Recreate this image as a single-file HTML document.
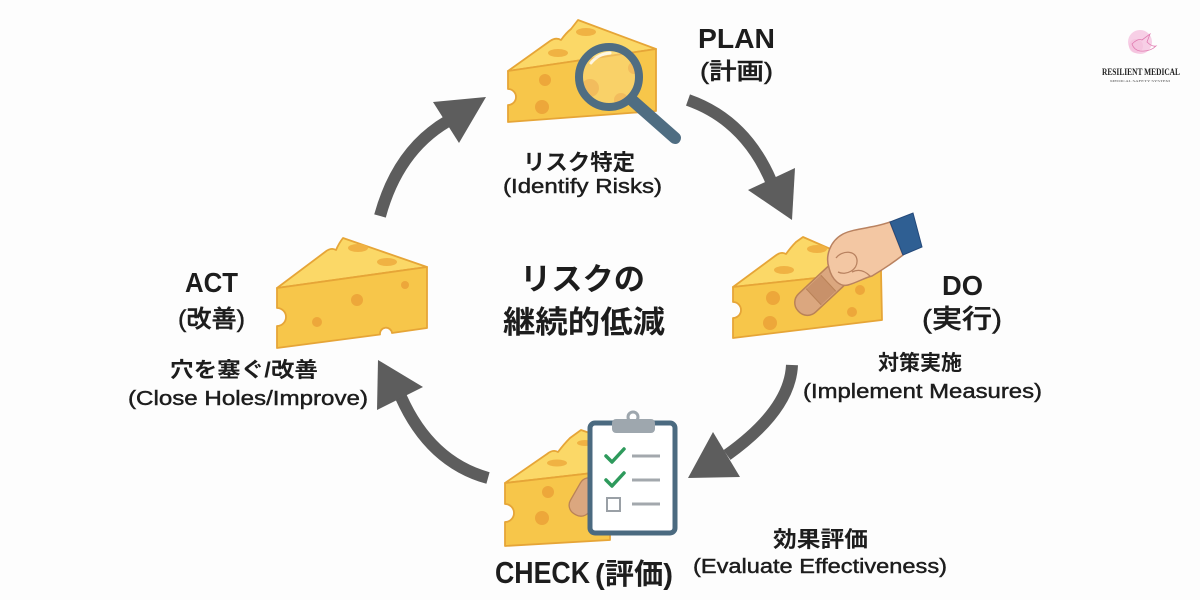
<!DOCTYPE html>
<html><head><meta charset="utf-8">
<style>
html,body{margin:0;padding:0;background:#fdfdfd;}
svg{display:block;}
text{font-family:"Liberation Sans","Noto Sans CJK JP",sans-serif;fill:#1d1d1d;}
.b{font-weight:700;}
.m{font-weight:500;stroke:#1d1d1d;stroke-width:0.45;}
</style></head><body>
<svg width="1200" height="600" viewBox="0 0 1200 600" xmlns="http://www.w3.org/2000/svg">
<rect width="1200" height="600" fill="#fdfdfd"/>

<!-- ARROWS -->
<g fill="none" stroke="#5d5d5d" stroke-width="12">
  <path d="M380,216 Q398,150 448,121"/>
  <path d="M688,100 Q745,120 771,181"/>
  <path d="M792,365 Q790,410 727,455"/>
  <path d="M488,478 Q430,462 401,397"/>
</g>
<g fill="#5d5d5d">
  <polygon points="433,102 486,97 459,143"/>
  <polygon points="748,190 795,168 792,220"/>
  <polygon points="713,432 740,477 688,478"/>
  <polygon points="378,360 423,387 377,410"/>
</g>

<!-- PLAN cheese -->
<g stroke="#e6a537" stroke-width="1.8" stroke-linejoin="round">
  <path d="M508,71 L550,41 Q556,37 561,40 Q566,33 571,29 L578,20 L656,49 Z" fill="#fbd867"/>
  <path d="M508,71 L656,49 L656,111 L508,122 L508,105 A8,8 0 0 0 508,89 Z" fill="#f7c64a"/>
</g>
<g fill="#eda73a">
  <circle cx="545" cy="80" r="6"/>
  <circle cx="542" cy="107" r="7"/>
  <circle cx="590" cy="88" r="9"/>
  <circle cx="621" cy="100" r="7"/>
  <circle cx="634" cy="68" r="6"/>
</g>
<g fill="#f0b243">
  <ellipse cx="586" cy="32" rx="10" ry="4"/>
  <ellipse cx="558" cy="53" rx="10" ry="4"/>
</g>
<!-- magnifier -->
<line x1="633" y1="101" x2="675" y2="138" stroke="#4f6d82" stroke-width="12" stroke-linecap="round"/>
<circle cx="609" cy="77" r="30" fill="#fbe6a0" fill-opacity="0.35" stroke="#4f6d82" stroke-width="8"/>
<path d="M591,63 Q598,54 610,53" fill="none" stroke="#ffffff" stroke-width="3" stroke-linecap="round" opacity="0.8"/>

<!-- DO cheese -->
<g stroke="#e6a537" stroke-width="1.8" stroke-linejoin="round">
  <path d="M733,287 L775,256 Q781,251 786,254 Q791,247 796,242 L803,237 L881,271 Z" fill="#fbd867"/>
  <path d="M733,287 L881,271 L882,320 L733,338 L733,318 A8,8 0 0 0 733,302 Z" fill="#f7c64a"/>
</g>
<g fill="#eda73a">
  <circle cx="773" cy="298" r="7"/>
  <circle cx="770" cy="323" r="7"/>
  <circle cx="852" cy="312" r="5"/>
  <circle cx="860" cy="290" r="5"/>
</g>
<g fill="#f0b243">
  <ellipse cx="817" cy="249" rx="10" ry="4"/>
  <ellipse cx="784" cy="270" rx="10" ry="4"/>
</g>
<!-- bandage -->
<g transform="translate(821,290) rotate(-43)">
  <rect x="-31" y="-12.5" width="62" height="25" rx="12" fill="#dba77f" stroke="#b98257" stroke-width="1.5"/>
  <rect x="-10" y="-11" width="20" height="22" fill="#c8916a"/>
  <line x1="-10" y1="-11" x2="-10" y2="11" stroke="#b98257" stroke-width="1"/>
  <line x1="10" y1="-11" x2="10" y2="11" stroke="#b98257" stroke-width="1"/>
</g>
<!-- hand -->
<path d="M890,222 C875,228 855,228 843,234 C830,241 825,256 829,268 C832,280 840,287 848,285 C856,283 864,278 872,276 C882,270 894,262 903,255 Z" fill="#f3c7a3" stroke="#b98260" stroke-width="1.5" stroke-linejoin="round"/>
<path d="M836,258 C842,250 856,250 857,260 C858,270 846,276 838,272" fill="none" stroke="#b98260" stroke-width="1.3"/>
<path d="M852,272 C860,268 866,272 870,276" fill="none" stroke="#b98260" stroke-width="1.3"/>
<polygon points="890,222 913,213 922,247 903,255" fill="#2f5f93" stroke="#24497a" stroke-width="1"/>

<!-- CHECK cheese -->
<g stroke="#e6a537" stroke-width="1.8" stroke-linejoin="round">
  <path d="M505,483 L547,454 Q553,449 558,452 Q564,444 570,438 L581,430 L610,440 L610,471 Z" fill="#fbd867"/>
  <path d="M505,483 L610,471 L610,540 L505,546 L505,522 A9,9 0 0 0 505,504 Z" fill="#f7c64a"/>
</g>
<g fill="#eda73a">
  <circle cx="548" cy="492" r="6"/>
  <circle cx="542" cy="518" r="7"/>
</g>
<g fill="#f0b243">
  <ellipse cx="557" cy="463" rx="10" ry="3.5"/>
  <ellipse cx="585" cy="443" rx="8" ry="3"/>
</g>
<g transform="translate(585,497) rotate(-60)">
  <rect x="-20" y="-11" width="40" height="22" rx="10" fill="#dba77f" stroke="#b98257" stroke-width="1.3"/>
</g>
<!-- clipboard -->
<rect x="590" y="423" width="85" height="110" rx="5" fill="#ffffff" stroke="#4b6a80" stroke-width="5"/>
<circle cx="633" cy="417" r="5" fill="#ffffff" stroke="#9ea7ae" stroke-width="3"/>
<rect x="612" y="419" width="43" height="14" rx="4" fill="#9ea7ae"/>
<g fill="none" stroke="#2e9a5c" stroke-width="3.5" stroke-linecap="round" stroke-linejoin="round">
  <polyline points="606,456 612,462 624,449"/>
  <polyline points="606,480 612,486 624,473"/>
</g>
<rect x="607" y="498" width="13" height="13" fill="none" stroke="#9aa0a6" stroke-width="2"/>
<g stroke="#a3a8ad" stroke-width="3">
  <line x1="632" y1="456" x2="660" y2="456"/>
  <line x1="632" y1="480" x2="660" y2="480"/>
  <line x1="632" y1="504" x2="660" y2="504"/>
</g>

<!-- ACT cheese -->
<g stroke="#e6a537" stroke-width="1.8" stroke-linejoin="round">
  <path d="M277,288 L325,252 Q331,247 336,250 Q339,243 343,238 L427,267 Z" fill="#fbd867"/>
  <path d="M277,288 L427,267 L427,328 L392,333 A6,6 0 0 0 380,334.5 L277,348 L277,326 A9,9 0 0 0 277,308 Z" fill="#f7c64a"/>
</g>
<g fill="#eda73a">
  <circle cx="357" cy="300" r="6"/>
  <circle cx="405" cy="285" r="4"/>
  <circle cx="317" cy="322" r="5"/>
</g>
<g fill="#f0b243">
  <ellipse cx="358" cy="248" rx="10" ry="4"/>
  <ellipse cx="387" cy="262" rx="10" ry="4"/>
</g>

<!-- TEXT -->
<text class="b" x="698" y="48" font-size="28" textLength="77" lengthAdjust="spacingAndGlyphs">PLAN</text>
<text class="m" x="700" y="79" font-size="23" textLength="73" lengthAdjust="spacingAndGlyphs">(計画)</text>
<text class="b" x="523" y="170" font-size="22" textLength="112" lengthAdjust="spacingAndGlyphs">リスク特定</text>
<text class="m" x="503" y="193" font-size="20" textLength="159" lengthAdjust="spacingAndGlyphs">(Identify Risks)</text>

<text class="b" x="942" y="295" font-size="28" textLength="41" lengthAdjust="spacingAndGlyphs">DO</text>
<text class="m" x="922" y="328" font-size="26" textLength="80" lengthAdjust="spacingAndGlyphs">(実行)</text>
<text class="b" x="878" y="370" font-size="21" textLength="84" lengthAdjust="spacingAndGlyphs">対策実施</text>
<text class="m" x="803" y="398" font-size="20" textLength="239" lengthAdjust="spacingAndGlyphs">(Implement Measures)</text>

<text class="b" x="495" y="583" font-size="31" textLength="95" lengthAdjust="spacingAndGlyphs">CHECK</text>
<text class="b" x="595" y="584" font-size="29" textLength="78" lengthAdjust="spacingAndGlyphs">(評価)</text>
<text class="b" x="773" y="547" font-size="22" textLength="95" lengthAdjust="spacingAndGlyphs">効果評価</text>
<text class="m" x="693" y="573" font-size="20" textLength="254" lengthAdjust="spacingAndGlyphs">(Evaluate Effectiveness)</text>

<text class="b" x="185" y="292" font-size="28" textLength="53" lengthAdjust="spacingAndGlyphs">ACT</text>
<text class="m" x="178" y="327" font-size="24" textLength="67" lengthAdjust="spacingAndGlyphs">(改善)</text>
<text class="b" x="170" y="377" font-size="21" textLength="148" lengthAdjust="spacingAndGlyphs">穴を塞ぐ/改善</text>
<text class="m" x="128" y="405" font-size="20" textLength="240" lengthAdjust="spacingAndGlyphs">(Close Holes/Improve)</text>

<text class="b" x="520" y="290" font-size="31" textLength="125" lengthAdjust="spacingAndGlyphs">リスクの</text>
<text class="b" x="503" y="333" font-size="31" textLength="162" lengthAdjust="spacingAndGlyphs">継続的低減</text>

<!-- LOGO -->
<circle cx="1140" cy="42" r="12" fill="#f7cfe6"/>
<circle cx="1136" cy="46" r="7" fill="#f3bfdc" opacity="0.7"/>
<path d="M1132,44 Q1138,38 1142,40 L1150,34 L1147,42 Q1152,47 1156,46 Q1150,52 1140,51 Q1134,50 1132,44 Z" fill="none" stroke="#e07bb0" stroke-width="0.8"/>
<text x="1102" y="75" font-size="9.5" font-weight="700" textLength="78" lengthAdjust="spacingAndGlyphs" style="font-family:'Liberation Serif',serif;fill:#222">RESILIENT MEDICAL</text>
<text x="1110" y="82" font-size="3.5" textLength="60" lengthAdjust="spacingAndGlyphs" style="font-family:'Liberation Serif',serif;fill:#555">MEDICAL SAFETY SYSTEM</text>
</svg>
</body></html>
